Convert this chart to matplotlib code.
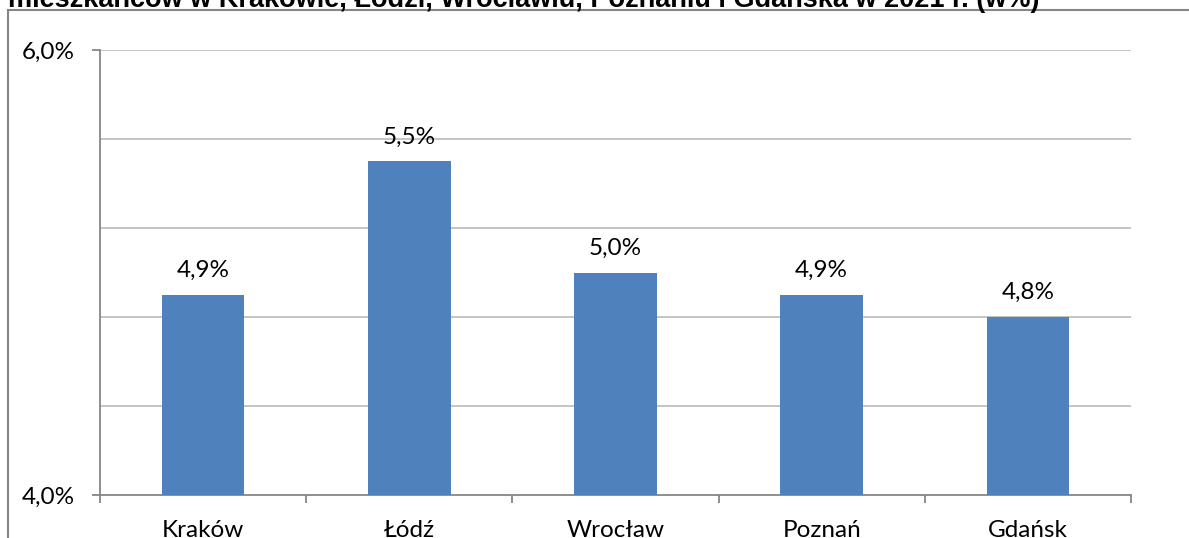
import matplotlib.pyplot as plt
from matplotlib.lines import Line2D

# data
cities = ['Kraków', 'Łódź', 'Wrocław', 'Poznań', 'Gdańsk']
shares = [4.9, 5.5, 5.0, 4.9, 4.8]
value_labels = ['4,9%', '5,5%', '5,0%', '4,9%', '4,8%']
y_labels = ['4,0%', '6,0%']
y_major = [4.0, 6.0]
y_grid = [4.4, 4.8, 5.2, 5.6]
title = 'mieszkańców w Krakowie, Łodzi, Wrocławiu, Poznaniu i Gdańska w 2021 r. (w%)'

BAR = '#4F81BD'
SPINE = '#868686'
GRID = '#BFBFBF'
FS = 17.5

plt.rcParams['font.family'] = ['Lato', 'DejaVu Sans']

fig = plt.figure(figsize=(11.89, 5.38), dpi=100)
ax = fig.add_axes([100 / 1189, 1 - 495 / 538, 1031 / 1189, 445 / 538])

x = list(range(len(cities)))
ax.bar(x, shares, width=0.4, color=BAR, zorder=3)
ax.set_xlim(-0.5, len(cities) - 0.5)
ax.set_ylim(4.0, 6.0)

for xi, v, lab in zip(x, shares, value_labels):
    ax.annotate(lab, (xi, v), xytext=(0, 10), textcoords='offset points',
                ha='center', va='bottom', fontsize=FS, color='black')

ax.set_yticks(y_major)
ax.set_yticklabels(y_labels, fontsize=FS)
ax.set_yticks(y_grid, minor=True)
ax.tick_params(axis='y', which='major', length=6, width=1.3, color=SPINE, pad=12)
ax.tick_params(axis='y', which='minor', length=0)
ax.grid(axis='y', which='minor', color=GRID, linewidth=1.3, zorder=0)

# category labels in the middle, tick marks on the boundaries
ax.set_xticks(x)
ax.set_xticklabels(cities, fontsize=FS)
ax.tick_params(axis='x', which='major', length=0, pad=18)
ax.set_xticks([i - 0.5 for i in range(len(cities) + 1)], minor=True)
ax.tick_params(axis='x', which='minor', length=6, width=1.3, color=SPINE)

ax.spines['top'].set_visible(False)
ax.spines['right'].set_visible(False)
for s in ('left', 'bottom'):
    ax.spines[s].set_color(SPINE)
    ax.spines[s].set_linewidth(1.3)

# top gridline at 6,0%
ax.axhline(6.0, color=GRID, linewidth=1.3, zorder=0)

# outer chart frame (partly outside the picture)
fig.add_artist(Line2D([8 / 1189, 8 / 1189], [0, 1 - 10 / 538], transform=fig.transFigure,
                      color=SPINE, linewidth=1.5))
fig.add_artist(Line2D([8 / 1189, 1], [1 - 10 / 538, 1 - 10 / 538], transform=fig.transFigure,
                      color=SPINE, linewidth=1.5))

# title, cut off at the top edge as in the source
fig.text(8 / 1189, 1 - 7 / 538, title, ha='left', va='baseline',
         fontsize=19.5, fontweight='bold', family=['Liberation Sans', 'DejaVu Sans'])

fig.savefig('out.png', dpi=100)
